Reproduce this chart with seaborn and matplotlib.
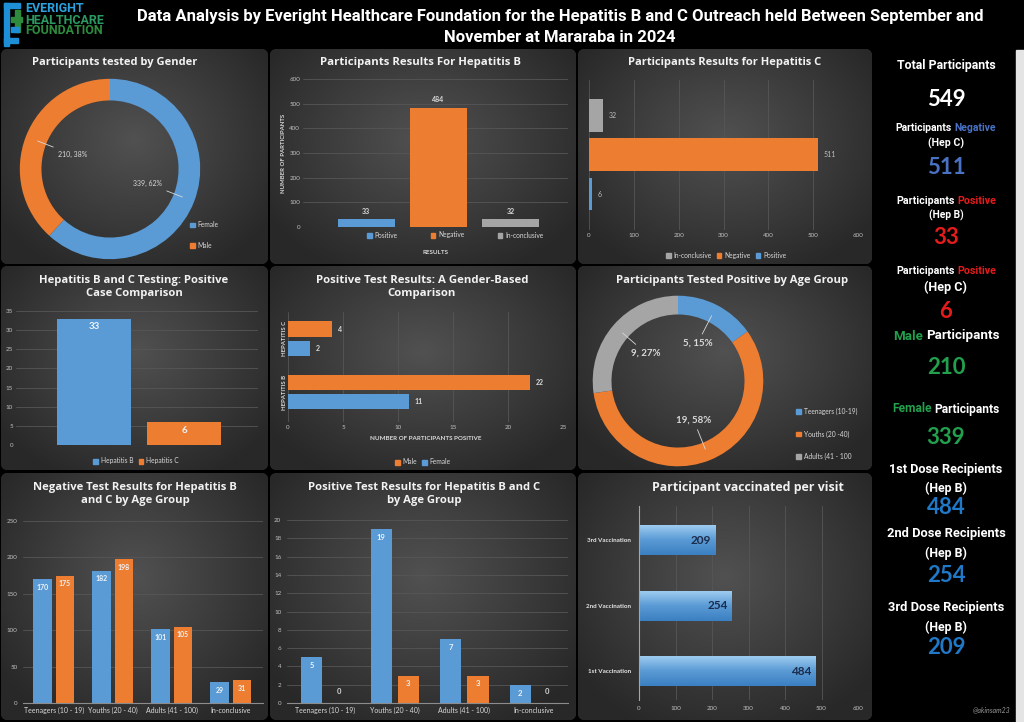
import numpy as np
import pandas as pd
import matplotlib
matplotlib.use('Agg')
import matplotlib.pyplot as plt
import seaborn as sns
from matplotlib.patches import FancyBboxPatch, Rectangle, Patch
from matplotlib.colors import LinearSegmentedColormap

# ---------------- data ----------------
gender_labels = ['Female', 'Male']
gender_counts = [339, 210]

hepb_results = ['Positive', 'Negative', 'In-conclusive']
hepb_counts = [33, 484, 32]

hepc_results = ['Positive', 'Negative', 'In-conclusive']
hepc_counts = [6, 511, 32]

pos_compare_labels = ['Hepatitis B', 'Hepatitis C']
pos_compare_counts = [33, 6]

gender_pos_cats = ['HEPATITIS B', 'HEPATITIS C']
gender_pos_male = [22, 4]
gender_pos_female = [11, 2]

age_pos_labels = ['Teenagers (10-19)', 'Youths (20 -40)', 'Adults (41 - 100']
age_pos_counts = [5, 19, 9]

age_groups = ['Teenagers (10 - 19)', 'Youths (20 - 40)', 'Adults (41 - 100)', 'In-conclusive']
neg_hepb = [170, 182, 101, 29]
neg_hepc = [175, 198, 105, 31]
pos_hepb = [5, 19, 7, 2]
pos_hepc = [0, 3, 3, 0]

vacc_labels = ['1st Vaccination', '2nd Vaccination', '3rd Vaccination']
vacc_counts = [484, 254, 209]

kpi_total = 549

# ---------------- style ----------------
BLUE, ORANGE, GREY = '#5b9bd5', '#ed7d31', '#a5a5a5'
TXT, TICK, GRID = '#d9d9d9', '#bfbfbf', '#565656'
NARROW = ['Roboto', 'DejaVu Sans']
TITLEF = ['Open Sans', 'DejaVu Sans']

W, H = 1024, 722
sns.set_theme(style='dark', rc={'axes.facecolor': 'none', 'figure.facecolor': 'black'})
plt.rcParams['font.family'] = ['Lato', 'DejaVu Sans']

fig = plt.figure(figsize=(W / 100, H / 100), dpi=100)
rend = fig.canvas.get_renderer()


def fx(x):
    return x / W


def fy(y):
    return 1 - y / H


def px_axes(x0, y0, x1, y1):
    ax = fig.add_axes([fx(x0), fy(y1), (x1 - x0) / W, (y1 - y0) / H])
    ax.set_facecolor('none')
    return ax


def fit(t, target):
    # scale a text so that its rendered width matches the reference width (px)
    w = t.get_window_extent(rend).width
    t.set_fontsize(t.get_fontsize() * target / w)
    return t


# background + panels
bg = fig.add_axes([0, 0, 1, 1])
bg.axis('off')
bg.add_patch(Rectangle((0, 0), W, H, color='black', zorder=0))
bg.add_patch(Rectangle((1016, 50), 8, H - 50, color='#e4e4e4', zorder=1))

yy, xx = np.mgrid[0:1:200j, 0:1:200j]
rad = np.clip(np.sqrt(((xx - 0.5) / 0.62) ** 2 + ((yy - 0.42) / 0.68) ** 2), 0, 1)
panel_cmap = LinearSegmentedColormap.from_list('pnl', ['#515151', '#3d3d3d', '#282828'])

panels = [(1, 49, 268, 264), (270, 49, 576, 264), (578, 49, 872, 264),
          (1, 266, 268, 470), (270, 266, 576, 470), (578, 266, 872, 470),
          (1, 473, 268, 720), (270, 473, 576, 720), (578, 473, 872, 720)]
for x0, y0, x1, y1 in panels:
    box = FancyBboxPatch((x0, y0), x1 - x0, y1 - y0, boxstyle='round,pad=0,rounding_size=7',
                         fc='#333333', ec='none', zorder=1)
    bg.add_patch(box)
    im = bg.imshow(rad, cmap=panel_cmap, extent=(x0, x1, y1, y0), aspect='auto',
                   interpolation='bilinear', vmin=0, vmax=1, zorder=2)
    im.set_clip_path(box)

# logo
for (lx, ly, lw, lh, lc) in [(4, 3, 16, 5, '#1e8fd6'), (4, 3, 5, 43, '#1e8fd6'),
                             (11, 17, 11, 5, '#2e8b3e'), (15, 10, 5, 22, '#2e8b3e'),
                             (4, 38, 14, 5, '#1e8fd6'), (11, 27, 8, 5, '#1e8fd6')]:
    bg.add_patch(Rectangle((lx, ly), lw, lh, color=lc, zorder=3))
bg.set_xlim(0, W)
bg.set_ylim(H, 0)

logo_txt = []
for s, yv, c in [('EVERIGHT', 9, '#2aa3e0'), ('HEALTHCARE', 20, '#2a9a62'), ('FOUNDATION', 31, '#2e8b3e')]:
    logo_txt.append(fig.text(fx(25), fy(yv), s, color=c, fontsize=8, fontweight='bold',
                             family=NARROW, ha='left', va='center'))
fit(logo_txt[1], 80)
for t in logo_txt:
    t.set_fontsize(logo_txt[1].get_fontsize())

h1 = fig.text(fx(560), fy(16), 'Data Analysis by Everight Healthcare Foundation for the Hepatitis B and C '
              'Outreach held Between September and', color='white', fontsize=12,
              fontweight='bold', family=NARROW, ha='center', va='center')
fit(h1, 846)
fig.text(fx(560), fy(37), 'November at Mararaba in 2024', color='white', fontsize=h1.get_fontsize(),
         fontweight='bold', family=NARROW, ha='center', va='center')


def title(cx, y, s, target, size=7):
    t = fig.text(fx(cx), fy(y), s, color='#f2f2f2', fontsize=size, fontweight='bold', family=TITLEF,
                 ha='center', va='center', linespacing=1.3)
    fit(t, target)


def style(ax, grid_axis='y'):
    for sp in ax.spines.values():
        sp.set_visible(False)
    ax.grid(False)
    if grid_axis:
        ax.grid(axis=grid_axis, color=GRID, lw=0.6)
    ax.set_axisbelow(True)
    ax.tick_params(colors=TICK, labelsize=4.5, length=0, pad=2)
    ax.set_xlabel('')
    ax.set_ylabel('')


def legend(ax, labels, colors, x, y, ncol, loc='center', spacing=0.5, colsp=1.0, size=4.8):
    handles = [Patch(color=c) for c in colors]
    ax.legend(handles, labels, loc=loc, bbox_to_anchor=(fx(x), fy(y)), bbox_transform=fig.transFigure,
              ncol=ncol, frameon=False, fontsize=size, labelcolor=TXT, handlelength=0.7,
              handleheight=0.7, handletextpad=0.4, columnspacing=colsp, labelspacing=spacing,
              borderpad=0)


def donut_labels(ax, wedges, values, inner, outer, size, weight):
    tot = sum(values)
    for w, v in zip(wedges, values):
        ang = np.deg2rad((w.theta1 + w.theta2) / 2)
        d = np.array([np.cos(ang), np.sin(ang)])
        ax.annotate(f'{v}, {round(100 * v / tot)}%', xy=outer * d, xytext=inner * d,
                    ha='center', va='center', color=TXT, fontsize=size, fontweight=weight,
                    arrowprops=dict(arrowstyle='-', color=TXT, lw=0.6, shrinkA=1, shrinkB=0))


def inside_labels(ax, size, color='#eef3fa'):
    for c in ax.containers:
        for p in c:
            h = p.get_height()
            xc = p.get_x() + p.get_width() / 2
            if h > 0:
                ax.annotate(f'{int(round(h))}', (xc, h), xytext=(0, -6), textcoords='offset points',
                            ha='center', va='center', color=color, fontsize=size, fontweight='bold')
            else:
                ax.annotate('0', (xc, 0), xytext=(0, 8), textcoords='offset points',
                            ha='center', va='center', color=TXT, fontsize=size, fontweight='bold')


# ---------- 1: gender donut ----------
title(115, 63, 'Participants tested by Gender', 164)
ax1 = px_axes(18, 77, 202, 261)
w1, _ = ax1.pie(gender_counts, colors=[BLUE, ORANGE], startangle=90, counterclock=False,
                wedgeprops=dict(width=0.24, edgecolor='none'))
ax1.set_xlim(-1.02, 1.02)
ax1.set_ylim(-1.02, 1.02)
donut_labels(ax1, w1, gender_counts, 0.45, 0.86, 5, 'normal')
legend(ax1, gender_labels, [BLUE, ORANGE], 187, 235, 1, loc='center left', spacing=2.0)

# ---------- 2: Hep B results ----------
title(420, 63, 'Participants Results For Hepatitis B', 200)
ax2 = px_axes(303, 79, 568, 227)
sns.barplot(x=hepb_results, y=hepb_counts, hue=hepb_results,
            palette={'Positive': BLUE, 'Negative': ORANGE, 'In-conclusive': GREY},
            width=0.8, saturation=1, legend=False, linewidth=0, ax=ax2)
style(ax2, 'y')
ax2.set_ylim(0, 600)
ax2.set_yticks(range(0, 601, 100))
ax2.set_xlim(-0.88, 2.8)
ax2.set_xticks([])
for c in ax2.containers:
    ax2.bar_label(c, padding=3, color=TXT, fontsize=5, fontweight='bold')
ax2.set_xlabel('RESULTS', fontsize=4.5, fontweight='bold', color=TXT)
ax2.xaxis.set_label_coords(0.5, -(250 - 227) / 148)
ax2.set_ylabel('NUMBER OF PARTICIPANTS', fontsize=4.3, fontweight='bold', color=TXT)
ax2.yaxis.set_label_coords(-0.064, 0.5)
legend(ax2, hepb_results, [BLUE, ORANGE, GREY], 455, 235, 3, colsp=5)

# ---------- 3: Hep C results ----------
title(725, 63, 'Participants Results for Hepatitis C', 194)
ax3 = px_axes(589, 80, 858, 230)
order3 = hepc_results[::-1]
sns.barplot(x=hepc_counts, y=hepc_results, hue=hepc_results, order=order3,
            palette={'Positive': BLUE, 'Negative': ORANGE, 'In-conclusive': GREY},
            orient='h', width=0.83, saturation=1, legend=False, linewidth=0, ax=ax3)
style(ax3, 'x')
ax3.set_xlim(0, 600)
ax3.set_xticks(range(0, 601, 100))
ax3.set_ylim(2.91, -0.89)
ax3.set_yticks([])
for c in ax3.containers:
    ax3.bar_label(c, padding=4, color=TICK, fontsize=5)
legend(ax3, order3, [GREY, ORANGE, BLUE], 726, 255, 3, colsp=0.8)

# ---------- 4: positive comparison ----------
title(134, 287, 'Hepatitis B and C Testing: Positive\nCase Comparison', 190)
ax4 = px_axes(16, 311, 258, 445)
sns.barplot(x=pos_compare_labels, y=pos_compare_counts, hue=pos_compare_labels,
            palette=[BLUE, ORANGE], width=0.82, saturation=1, legend=False, linewidth=0, ax=ax4)
style(ax4, 'y')
ax4.set_ylim(0, 35)
ax4.set_yticks(range(0, 36, 5))
ax4.set_xlim(-0.87, 1.82)
ax4.set_xticks([])
inside_labels(ax4, 7)
legend(ax4, pos_compare_labels, [BLUE, ORANGE], 136, 461, 2, colsp=0.8)

# ---------- 5: gender-based positive ----------
title(422, 287, 'Positive Test Results: A Gender-Based\nComparison', 210)
ax5 = px_axes(288, 312, 563, 422)
gp_df = pd.DataFrame({'hep': gender_pos_cats * 2,
                      'sex': ['Male'] * 2 + ['Female'] * 2,
                      'count': gender_pos_male + gender_pos_female})
sns.barplot(data=gp_df, y='hep', x='count', hue='sex', order=['HEPATITIS C', 'HEPATITIS B'],
            hue_order=['Male', 'Female'], palette=[ORANGE, BLUE], orient='h',
            width=0.72, gap=0.19, saturation=1, legend=False, linewidth=0, ax=ax5)
style(ax5, 'x')
ax5.set_xlim(0, 25)
ax5.set_xticks(range(0, 26, 5))
ax5.set_ylim(1.56, -0.5)
ax5.tick_params(axis='y', labelrotation=90, labelsize=4.3, labelcolor=TXT, pad=1)
for lbl in ax5.get_yticklabels():
    lbl.set_va('center')
    lbl.set_fontweight('bold')
for c in ax5.containers:
    ax5.bar_label(c, padding=4, color=TXT, fontsize=5, fontweight='bold')
ax5.set_xlabel('NUMBER OF PARTICIPANTS POSITIVE', fontsize=4.5, fontweight='bold', color=TXT)
ax5.xaxis.set_label_coords(0.5, -(436 - 422) / 110)
legend(ax5, ['Male', 'Female'], [ORANGE, BLUE], 423, 462, 2, colsp=0.8)

# ---------- 6: positive by age donut ----------
title(732, 280, 'Participants Tested Positive by Age Group', 231)
ax6 = px_axes(591, 294, 765, 468)
w6, _ = ax6.pie(age_pos_counts, colors=[BLUE, ORANGE, GREY], startangle=90, counterclock=False,
                wedgeprops=dict(width=0.22, edgecolor='none'))
ax6.set_xlim(-1.02, 1.02)
ax6.set_ylim(-1.02, 1.02)
donut_labels(ax6, w6, age_pos_counts, 0.5, 0.86, 7, 'bold')
legend(ax6, age_pos_labels, [BLUE, ORANGE, GREY], 793, 434, 1, loc='center left', spacing=2.3)

# ---------- 7: negative by age ----------
title(135, 494, 'Negative Test Results for Hepatitis B\nand C by Age Group', 203)
ax7 = px_axes(23, 521, 263, 703)
neg_df = pd.DataFrame({'group': age_groups * 2,
                       'test': ['Hepatitis B'] * 4 + ['Hepatitis C'] * 4,
                       'count': neg_hepb + neg_hepc})
sns.barplot(data=neg_df, x='group', y='count', hue='test', palette=[BLUE, ORANGE],
            width=0.76, gap=0.18, saturation=1, legend=False, linewidth=0, ax=ax7)
style(ax7, 'y')
ax7.set_ylim(0, 250)
ax7.set_yticks(range(0, 251, 50))
ax7.set_xlim(-0.52, 3.55)
ax7.tick_params(axis='y', pad=4)
ax7.tick_params(axis='x', labelsize=5, labelcolor=TXT, pad=3)
ax7.spines['bottom'].set_visible(True)
ax7.spines['bottom'].set_color('#8c8c8c')
ax7.spines['bottom'].set_linewidth(0.8)
inside_labels(ax7, 5)

# ---------- 8: positive by age ----------
title(424, 494, 'Positive Test Results for Hepatitis B and C\nby Age Group', 233)
ax8 = px_axes(287, 520, 568, 703)
pos_df = pd.DataFrame({'group': age_groups * 2,
                       'test': ['Hepatitis B'] * 4 + ['Hepatitis C'] * 4,
                       'count': pos_hepb + pos_hepc})
sns.barplot(data=pos_df, x='group', y='count', hue='test', palette=[BLUE, ORANGE],
            width=0.78, gap=0.22, saturation=1, legend=False, linewidth=0, ax=ax8)
style(ax8, 'y')
ax8.set_ylim(0, 20)
ax8.set_yticks(range(0, 21, 2))
ax8.set_xlim(-0.55, 3.49)
ax8.tick_params(axis='y', pad=4)
ax8.tick_params(axis='x', labelsize=5, labelcolor=TXT, pad=3)
ax8.spines['bottom'].set_visible(True)
ax8.spines['bottom'].set_color('#8c8c8c')
ax8.spines['bottom'].set_linewidth(0.8)
inside_labels(ax8, 5.5)

# ---------- 9: vaccination ----------
title(748, 488, 'Participant vaccinated per visit', 194, size=9.5)
ax9 = px_axes(639, 506, 858, 700)
sns.barplot(x=vacc_counts, y=vacc_labels, order=vacc_labels[::-1], color=BLUE, orient='h',
            width=0.46, saturation=1, linewidth=0, ax=ax9)
style(ax9, 'x')
ax9.set_xlim(0, 600)
ax9.set_xticks(range(0, 601, 100))
ax9.set_ylim(2.44, -0.52)
ax9.tick_params(axis='y', labelsize=4.5, labelcolor='#e6e6e6', pad=5.5)
ax9.tick_params(axis='x', pad=4)
for lbl in ax9.get_yticklabels():
    lbl.set_fontweight('bold')
ax9.spines['left'].set_visible(True)
ax9.spines['left'].set_color('#a6a6a6')
ax9.spines['left'].set_linewidth(0.8)
bar_cmap = LinearSegmentedColormap.from_list('bar', ['#a2cff2', '#5b9bd5', '#3b80c2'])
grad = np.linspace(0, 1, 60).reshape(-1, 1)
for p in ax9.containers[0]:
    x0, y0, wd, ht = p.get_x(), p.get_y(), p.get_width(), p.get_height()
    gim = ax9.imshow(grad, cmap=bar_cmap, extent=(x0, x0 + wd, y0 + ht, y0), aspect='auto',
                     interpolation='bilinear', zorder=p.get_zorder() + 0.1)
    gim.set_clip_path(p)
    ax9.annotate(f'{int(wd)}', (x0 + wd, y0 + ht / 2), xytext=(-3, 0), textcoords='offset points',
                 ha='right', va='center', color='#1c2b4a', fontsize=8.5, fontweight='bold',
                 zorder=5)
ax9.set_xlim(0, 600)
ax9.set_ylim(2.44, -0.52)

# ---------- KPI column ----------
CX = 946


def kpi_label(y, parts, target):
    texts = [fig.text(0, fy(y), s, color=c, fontsize=8, fontweight='bold', family=NARROW,
                      ha='left', va='center') for s, c in parts]
    gap = 0.25
    widths = [t.get_window_extent(rend).width for t in texts]
    total = sum(widths) + gap * 8 * 100 / 72 * (len(texts) - 1)
    scale = target / total
    for t in texts:
        t.set_fontsize(8 * scale)
    widths = [t.get_window_extent(rend).width for t in texts]
    g = gap * 8 * scale * 100 / 72
    total = sum(widths) + g * (len(texts) - 1)
    x = CX - total / 2
    for t, wv in zip(texts, widths):
        t.set_x(fx(x))
        x += wv + g


def kpi_num(y, value, color, size=16):
    fig.text(fx(CX), fy(y), f'{value}', color=color, fontsize=size, fontweight='bold',
             family=['Lato', 'DejaVu Sans'], ha='center', va='center')


W_ = 'white'
RED, GREEN, SLATE, DBLUE = '#e61b1b', '#22a04d', '#4a72c4', '#1f78c8'
kpi_label(65, [('Total Participants', W_)], 100)
kpi_num(100, kpi_total, W_)
kpi_label(128, [('Participants', W_), ('Negative', SLATE)], 101)
kpi_label(143, [('(Hep C)', W_)], 36)
kpi_num(167, hepc_counts[1], SLATE)
kpi_label(201, [('Participants', W_), ('Positive', RED)], 99)
kpi_label(215, [('(Hep B)', W_)], 35)
kpi_num(238, hepb_counts[0], RED)
kpi_label(271, [('Participants', W_), ('Positive', RED)], 99)
kpi_label(287, [('(Hep C)', W_)], 43)
kpi_num(312, hepc_counts[0], RED)
kpi_label(336, [('Male', GREEN), ('Participants', W_)], 106)
kpi_num(368, gender_counts[1], GREEN)
kpi_label(409, [('Female', GREEN), ('Participants', W_)], 108)
kpi_num(438, gender_counts[0], GREEN)
kpi_label(469, [('1st Dose Recipients', W_)], 114)
kpi_label(488, [('(Hep B)', W_)], 42)
kpi_num(507, vacc_counts[0], DBLUE)
kpi_label(534, [('2nd Dose Recipients', W_)], 119)
kpi_label(553, [('(Hep B)', W_)], 42)
kpi_num(575, vacc_counts[1], DBLUE)
kpi_label(608, [('3rd Dose Recipients', W_)], 117)
kpi_label(627, [('(Hep B)', W_)], 42)
kpi_num(648, vacc_counts[2], DBLUE)
fig.text(fx(1010), fy(710), '@akinsam23', color='#9a9a9a', fontsize=5, style='italic',
         ha='right', va='center')

fig.savefig('out.png', dpi=100, facecolor='black')
